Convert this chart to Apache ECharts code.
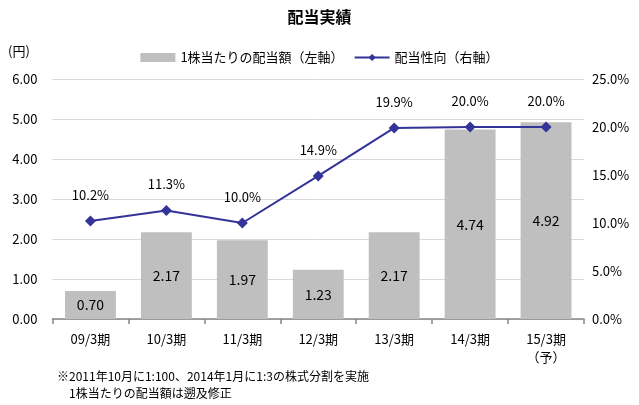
<!DOCTYPE html>
<html>
<head>
<meta charset="utf-8">
<script src="https://cdn.jsdelivr.net/npm/echarts@6/dist/echarts.min.js"></script>
<style>
html,body{margin:0;padding:0;background:#fff;}
#main{width:639px;height:405px;}
</style>
</head>
<body>
<div id="main"></div>
<script>
var categories = ['09/3期', '10/3期', '11/3期', '12/3期', '13/3期', '14/3期', '15/3期\n（予）'];
var dividends = [0.70, 2.17, 1.97, 1.23, 2.17, 4.74, 4.92];
var payoutRatio = [10.2, 11.3, 10.0, 14.9, 19.9, 20.0, 20.0];
var leftTicks = [0, 6, 1];
var rightTicks = [0, 25, 5];

var FONT = '"Noto Sans CJK JP", sans-serif';
var NOTE_FONT = '"Liberation Sans Narrow", "Noto Sans CJK JP", sans-serif';
var chart = echarts.init(document.getElementById('main'));
chart.setOption({
  backgroundColor: '#fff',
  textStyle: { fontFamily: FONT, color: '#000' },
  title: {
    text: '配当実績',
    left: 'center',
    top: 4,
    textStyle: { fontFamily: FONT, fontSize: 16, fontWeight: 'bold', color: '#000' }
  },
  legend: {
    top: 46,
    left: 'center',
    itemWidth: 35,
    itemHeight: 9,
    itemGap: 10,
    textStyle: { fontFamily: FONT, fontSize: 13, color: '#000' },
    data: [
      { name: '1株当たりの配当額（左軸）', icon: 'rect' },
      { name: '配当性向（右軸）' }
    ]
  },
  grid: { left: 52.5, right: 55, top: 79, bottom: 86, containLabel: false },
  xAxis: {
    type: 'category',
    data: categories,
    boundaryGap: true,
    axisLine: { lineStyle: { color: '#868686', width: 1.5 } },
    axisTick: { show: true, length: 5, lineStyle: { color: '#868686', width: 1.5 } },
    axisLabel: { fontFamily: FONT, fontSize: 13, color: '#000', margin: 11, lineHeight: 18, interval: 0 }
  },
  yAxis: [
    {
      type: 'value',
      min: leftTicks[0], max: leftTicks[1], interval: leftTicks[2],
      axisLine: { show: false },
      axisTick: { show: false },
      splitLine: { lineStyle: { color: '#D9D9D9', width: 1 } },
      axisLabel: { fontFamily: FONT, fontSize: 13, color: '#000', margin: 15,
        formatter: function (v) { return v.toFixed(2); } }
    },
    {
      type: 'value',
      min: rightTicks[0], max: rightTicks[1], interval: rightTicks[2],
      axisLine: { show: false },
      axisTick: { show: false },
      splitLine: { show: false },
      axisLabel: { fontFamily: FONT, fontSize: 13, color: '#000', margin: 8,
        formatter: function (v) { return v.toFixed(1) + '%'; } }
    }
  ],
  graphic: [
    { type: 'text', left: 8, top: 45, style: { text: '(円)', font: '13px ' + FONT, fill: '#000' } },
    { type: 'text', left: 57, top: 370, style: { text: '※2011年10月に1:100、2014年1月に1:3の株式分割を実施', font: '12px ' + NOTE_FONT, fill: '#000' } },
    { type: 'text', left: 57, top: 387, style: { text: '　1株当たりの配当額は遡及修正', font: '12px ' + NOTE_FONT, fill: '#000' } }
  ],
  series: [
    {
      name: '1株当たりの配当額（左軸）',
      type: 'bar',
      yAxisIndex: 0,
      data: dividends,
      barCategoryGap: '33%',
      itemStyle: { color: '#BFBFBF' },
      label: {
        show: true, position: 'inside', fontFamily: FONT, fontSize: 14, color: '#000',
        formatter: function (p) { return p.value.toFixed(2); }
      },
      z: 1
    },
    {
      name: '配当性向（右軸）',
      type: 'line',
      yAxisIndex: 1,
      data: payoutRatio,
      symbol: 'diamond',
      symbolSize: 11,
      lineStyle: { color: '#333399', width: 2 },
      itemStyle: { color: '#333399' },
      label: {
        show: true, position: 'top', distance: 14, fontFamily: FONT, fontSize: 13, color: '#000',
        formatter: function (p) { return p.value.toFixed(1) + '%'; }
      },
      z: 3
    }
  ]
});
</script>
</body>
</html>
